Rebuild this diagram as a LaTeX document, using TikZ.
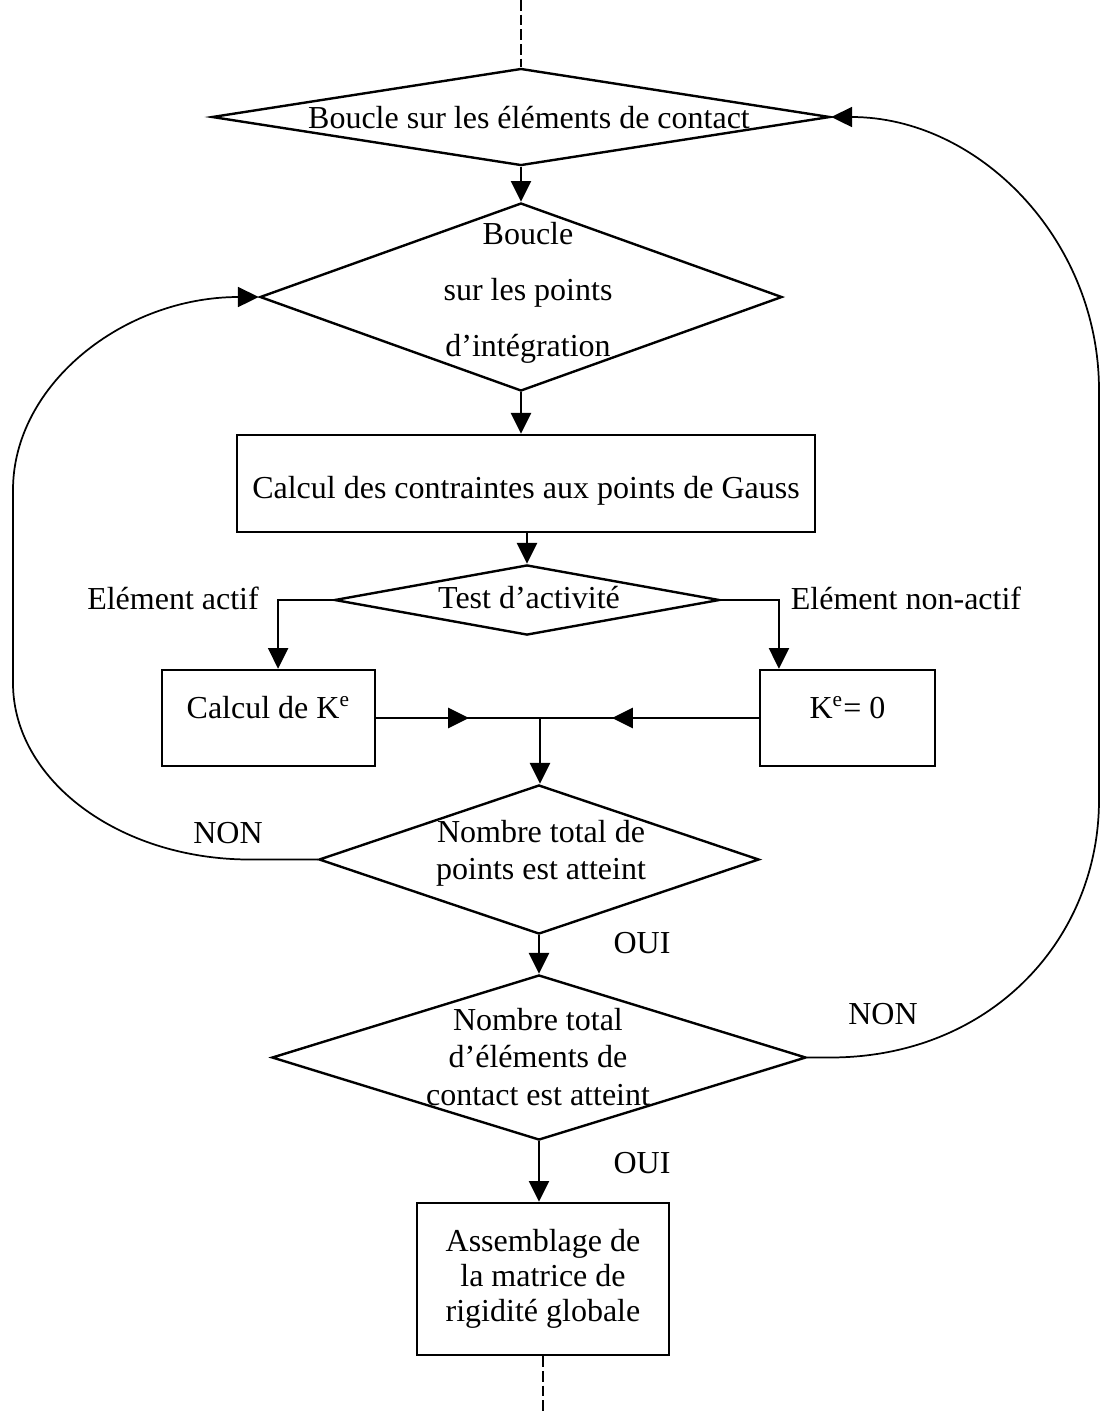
\documentclass[tikz,border=0pt]{standalone}
\usepackage{fontspec}
\setmainfont{Liberation Serif}
\usetikzlibrary{arrows.meta,shapes.geometric}

\begin{document}
\begin{tikzpicture}[
    x=0.375pt, y=-0.375pt,
    font=\fontsize{12pt}{13.9pt}\selectfont,
    block/.style={rectangle, draw, line width=0.9pt, align=center, inner sep=2pt},
    decision/.style={diamond, draw, line width=0.9pt, inner sep=0pt},
    txt/.style={align=center, inner sep=0pt},
    note/.style={inner sep=0pt},
    arrow/.style={-{Triangle[length=7.8pt,width=7.5pt]}, line width=0.9pt},
    backline/.style={-{Triangle[length=7.8pt,width=7.5pt]}, line width=0.65pt},
    dashline/.style={dash pattern=on 4pt off 1.5pt, line width=0.4pt}
  ]
    \useasboundingbox (0,0) rectangle (1102,1413);

    \node[decision, minimum width=231.8pt, minimum height=36.4pt] (contact) at (521,117) {};
    \node[txt] (contact-t) at (529,118) {Boucle sur les éléments de contact};
    \node[decision, minimum width=195.8pt, minimum height=70.5pt] (points) at (521,297) {};
    \node[txt, font=\fontsize{12pt}{21pt}\selectfont] (points-t) at (528,293) {Boucle\\sur les points\\d’intégration};
    \node[block, minimum width=216.8pt, minimum height=36.4pt, text height=11pt, text depth=0pt] (gauss) at (526,483.5) {Calcul des contraintes aux points de Gauss};
    \node[decision, minimum width=144.4pt, minimum height=26.3pt] (test) at (527,600) {};
    \node[txt] (test-t) at (529,598) {Test d’activité};
    \node[block, minimum width=79.9pt, minimum height=36pt, text height=9pt, text depth=9pt] (calcK) at (268.5,718) {Calcul de K\textsuperscript{e}};
    \node[block, minimum width=65.6pt, minimum height=36pt, text height=9pt, text depth=9pt] (kzero) at (847.5,718) {K\textsuperscript{e}= 0};
    \node[decision, minimum width=165pt, minimum height=55.9pt] (totpts) at (539,859.5) {};
    \node[txt] (totpts-t) at (541,853) {Nombre total de\\points est atteint};
    \node[decision, minimum width=200.3pt, minimum height=61.9pt] (totelem) at (539,1057.5) {};
    \node[txt] (totelem-t) at (538,1057) {Nombre total\\d’éléments de\\contact est atteint};
    \node[block, minimum width=94.5pt, minimum height=57pt, font=\fontsize{12pt}{13.2pt}\selectfont] (assemb) at (543,1279) {Assemblage de\\la matrice de\\rigidité globale};

    \node[note] (actif) at (173,598) {Elément actif};
    \node[note] (nonactif) at (906,598) {Elément non-actif};
    \node[note] (non1) at (228,833) {NON};
    \node[note] (oui1) at (642,943) {OUI};
    \node[note] (non2) at (883,1014) {NON};
    \node[note] (oui2) at (642,1163) {OUI};

    \coordinate (top) at (521,0);
    \coordinate (bottom) at (541,1413);
    \coordinate (merge) at (540,718);
    \coordinate (tipL) at (469,718);
    \coordinate (tipR) at (612,718);

    \draw[dashline] (top) -- (contact.north);
    \draw[arrow] (contact) -- (points);
    \draw[arrow] (points.south) -- (points.south |- gauss.north);
    \draw[arrow] (test.north |- gauss.south) -- (test.north);
    \draw[arrow] (test.west) -| ([xshift=3.6pt]calcK.north);
    \draw[arrow] (test.east) -| ([xshift=-25.7pt]kzero.north);
    \draw[line width=0.9pt] (calcK.east) -- (kzero.west);
    \draw[arrow] (calcK.east) -- (tipL);
    \draw[arrow] (kzero.west) -- (tipR);
    \draw[arrow] (merge) -- (merge |- totpts.north);
    \draw[arrow] (totpts) -- (totelem);
    \draw[arrow] (totelem.south) -- (totelem.south |- assemb.north);
    \draw[dashline] (assemb.south) -- (assemb.south |- bottom);

    \draw[backline] (totpts.west) -- (250,859.5)
      .. controls (119,859.5) and (13,780) .. (13,683)
      -- (13,490)
      .. controls (13,384) and (124,297) .. (points.west);
    \draw[backline] (totelem.east) -- (830,1057.5)
      .. controls (990,1057.5) and (1099,940) .. (1099,800)
      -- (1099,390)
      .. controls (1099,239) and (978,117) .. (contact.east);
  \end{tikzpicture}
\end{document}
